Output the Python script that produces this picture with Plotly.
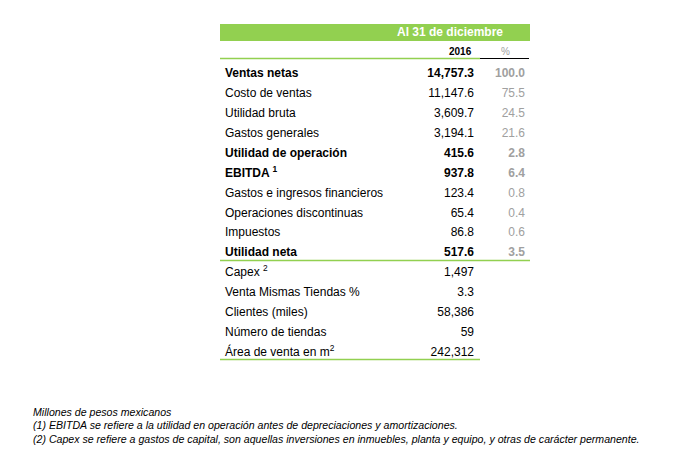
import plotly.graph_objects as go

# rows of the table (label, 2016 value, % of sales)
labels = ['Ventas netas', 'Costo de ventas', 'Utilidad bruta', 'Gastos generales',
          'Utilidad de operación', 'EBITDA <sup>1</sup>', 'Gastos e ingresos financieros',
          'Operaciones discontinuas', 'Impuestos', 'Utilidad neta',
          'Capex <sup>2</sup>', 'Venta Mismas Tiendas %', 'Clientes (miles)',
          'Número de tiendas', 'Área de venta en m<sup>2</sup>']
values = ['14,757.3', '11,147.6', '3,609.7', '3,194.1', '415.6', '937.8', '123.4',
          '65.4', '86.8', '517.6', '1,497', '3.3', '58,386', '59', '242,312']
pcts = ['100.0', '75.5', '24.5', '21.6', '2.8', '6.4', '0.8', '0.4', '0.6', '3.5']
bold_rows = [0, 4, 5, 9]

header = 'Al 31 de diciembre'
year_label = '2016'
pct_label = '%'
footnotes = ['Millones de pesos mexicanos',
             '(1) EBITDA se refiere a la utilidad en operación antes de depreciaciones y amortizaciones.',
             '(2) Capex se refiere a gastos de capital, son aquellas inversiones en inmuebles, planta y equipo, y otras de carácter permanente.']

W, H = 673, 467
OFF = 8  # default page margin around the plot div
GREEN = '#92d050'
FONT = 'Liberation Sans, Arial, sans-serif'


def b(s, i):
    return f'<b>{s}</b>' if i in bold_rows else s


rows = list(range(len(labels)))

fig = go.Figure()
fig.add_trace(go.Scatter(x=[225] * len(rows), y=rows, mode='text',
                         text=[b(s, i) for i, s in enumerate(labels)],
                         textposition='middle right',
                         textfont=dict(family=FONT, size=12, color='#000000')))
fig.add_trace(go.Scatter(x=[474] * len(rows), y=rows, mode='text',
                         text=[b(s, i) for i, s in enumerate(values)],
                         textposition='middle left',
                         textfont=dict(family=FONT, size=12, color='#000000')))
fig.add_trace(go.Scatter(x=[525] * len(pcts), y=rows[:len(pcts)], mode='text',
                         text=[b(s, i) for i, s in enumerate(pcts)],
                         textposition='middle left',
                         textfont=dict(family=FONT, size=12, color='#a0a0a0')))

FW, FH = W - 2 * OFF, H - 2 * OFF


def py(px):
    return 1 - (px - OFF) / FH


shapes = [
    dict(type='rect', xref='x', yref='paper', x0=220, x1=530, y0=py(41), y1=py(24),
         fillcolor=GREEN, line=dict(width=0), layer='below'),
    dict(type='line', xref='x', yref='paper', x0=220, x1=480, y0=py(58.5), y1=py(58.5),
         line=dict(color=GREEN, width=1.5)),
    dict(type='line', xref='x', yref='paper', x0=480, x1=529, y0=py(58.5), y1=py(58.5),
         line=dict(color='#000000', width=1.2)),
    dict(type='line', xref='x', yref='paper', x0=220, x1=530, y0=py(260.5), y1=py(260.5),
         line=dict(color=GREEN, width=1.5)),
    dict(type='line', xref='x', yref='paper', x0=220, x1=480, y0=py(359.5), y1=py(359.5),
         line=dict(color=GREEN, width=1.5)),
]

annotations = [
    dict(x=505, y=py(32), xref='x', yref='paper', text=f'<b>{header}</b>', showarrow=False,
         xanchor='right', yanchor='middle', font=dict(family=FONT, size=12, color='#ffffff')),
    dict(x=474, y=py(51.5), xref='x', yref='paper', text=f'<b>{year_label}</b>', showarrow=False,
         xanchor='right', yanchor='middle', font=dict(family=FONT, size=10, color='#000000')),
    dict(x=505, y=py(51.5), xref='x', yref='paper', text=pct_label, showarrow=False,
         xanchor='center', yanchor='middle', font=dict(family=FONT, size=10, color='#a0a0a0')),
]
for k, line in enumerate(footnotes):
    annotations.append(dict(x=31, y=py(411.5 + 13.5 * k), xref='x', yref='paper',
                            text=f'<i>{line}</i>', showarrow=False,
                            xanchor='left', yanchor='middle',
                            font=dict(family=FONT, size=10.6, color='#000000')))

first_row, step = 74, (351 - 72) / 14
fig.update_layout(
    width=FW, height=FH,
    margin=dict(l=0, r=0, t=0, b=0),
    paper_bgcolor='#ffffff', plot_bgcolor='#ffffff',
    showlegend=False,
    xaxis=dict(range=[OFF, W - OFF], visible=False, fixedrange=True),
    yaxis=dict(range=[(H - OFF - first_row) / step, (OFF - first_row) / step],
               visible=False, fixedrange=True),
    shapes=shapes,
    annotations=annotations,
)

fig.write_html('out.html')
